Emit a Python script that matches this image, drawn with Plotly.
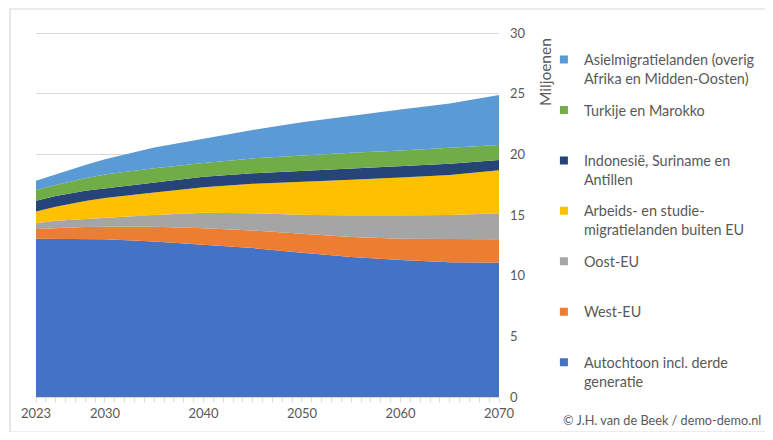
"""
Bevolking van Nederland naar herkomst, prognose 2023-2070 (gestapeld vlakdiagram).
"""
import plotly.graph_objects as go

# waarden in miljoenen
years = [2023, 2025, 2028, 2030, 2035, 2040, 2045, 2050, 2055, 2060, 2065, 2070]
autochtoon = [13.05, 13.05, 13.02, 13.00, 12.82, 12.58, 12.28, 11.90, 11.55, 11.30, 11.10, 11.07]
west_eu = [0.80, 0.88, 0.99, 1.03, 1.22, 1.34, 1.45, 1.55, 1.65, 1.75, 1.90, 1.93]
oost_eu = [0.48, 0.61, 0.66, 0.75, 0.96, 1.26, 1.42, 1.58, 1.76, 1.91, 2.00, 2.14]
arbeid_studie = [0.97, 1.15, 1.49, 1.62, 1.85, 2.12, 2.42, 2.74, 2.96, 3.14, 3.30, 3.56]
indonesie_sur = [0.88, 0.88, 0.85, 0.80, 0.85, 0.85, 0.88, 0.88, 0.92, 0.93, 0.92, 0.84]
turkije_mar = [0.89, 0.91, 1.02, 1.15, 1.15, 1.15, 1.22, 1.27, 1.29, 1.30, 1.30, 1.23]
asiel = [0.75, 0.88, 1.10, 1.25, 1.72, 2.00, 2.34, 2.73, 3.07, 3.37, 3.68, 4.13]

x_labels = [2023, 2030, 2040, 2050, 2060, 2070]

series = [
    ("Autochtoon incl. derde<br>generatie", autochtoon, "#4472C4"),
    ("West-EU<br> ", west_eu, "#ED7D31"),
    ("Oost-EU<br> ", oost_eu, "#A5A5A5"),
    ("Arbeids- en studie-<br>migratielanden buiten EU", arbeid_studie, "#FFC000"),
    ("Indonesië, Suriname en<br>Antillen", indonesie_sur, "#264478"),
    ("Turkije en Marokko<br> ", turkije_mar, "#70AD47"),
    ("Asielmigratielanden (overig<br>Afrika en Midden-Oosten)", asiel, "#5B9BD5"),
]

FONT = "Lato"
GREY = "#595959"
LINE = "#D9D9D9"

fig = go.Figure()
for name, values, color in series:
    fig.add_trace(go.Scatter(x=years, y=values, stackgroup="herkomst", mode="lines",
                             line=dict(width=0, color=color), fillcolor=color,
                             name=name, showlegend=False, hoverinfo="x+y+name"))

# legenda met kleine vierkantjes zoals in Excel
for name, values, color in reversed(series):
    fig.add_trace(go.Scatter(x=[None], y=[None], mode="markers", name=name,
                             marker=dict(symbol="square", size=8, color=color),
                             legendgroup=name))

# de pagina heeft 8px marge rond de figuur, dus figuur iets kleiner
fig.update_layout(
    width=757, height=424,
    margin=dict(l=28, r=266, t=24, b=35, autoexpand=False),
    paper_bgcolor="white", plot_bgcolor="white",
    font=dict(family=FONT, size=13, color=GREY),
    showlegend=True,
    legend=dict(x=1.097, xanchor="left", y=0.968, yanchor="top",
                valign="top", tracegroupgap=10, itemwidth=30,
                font=dict(family=FONT, size=14.4, color=GREY),
                bgcolor="rgba(0,0,0,0)"),
)

fig.update_xaxes(range=[2023, 2070], tickmode="array", tickvals=x_labels,
                 showgrid=False, showline=True, linecolor=LINE, linewidth=1,
                 ticks="outside", ticklen=4, tickcolor=LINE,
                 minor=dict(dtick=1, tick0=2023, ticks="outside", ticklen=4,
                            tickcolor=LINE, showgrid=False),
                 tickfont=dict(size=13, color=GREY), zeroline=False)
# iets boven 30 zodat de bovenste rasterlijn nog getekend wordt
fig.update_yaxes(range=[0, 30.09], tickvals=[0, 5, 10, 15, 20, 25, 30], side="right",
                 showgrid=True, gridcolor=LINE, gridwidth=1, showline=False,
                 zeroline=False, ticks="", ticklabelstandoff=10,
                 tickfont=dict(size=13, color=GREY))

# astitel
fig.add_annotation(text="Miljoenen", xref="paper", yref="paper", x=1.099, y=0.890,
                   textangle=-90, showarrow=False, font=dict(size=15.5, color=GREY),
                   xanchor="center", yanchor="middle")
# bron
fig.add_annotation(text="© J.H. van de Beek / demo-demo.nl", xref="paper", yref="paper",
                   x=1.570, y=-0.063, xanchor="right", yanchor="middle", showarrow=False,
                   font=dict(size=12.7, color=GREY))
# kader rond de grafiek
fig.add_shape(type="rect", xref="paper", yref="paper", x0=-0.056, x1=1.5767,
              y0=-0.0959, y1=1.063, line=dict(color=LINE, width=1.2), layer="below")

fig.write_html("out.html")
